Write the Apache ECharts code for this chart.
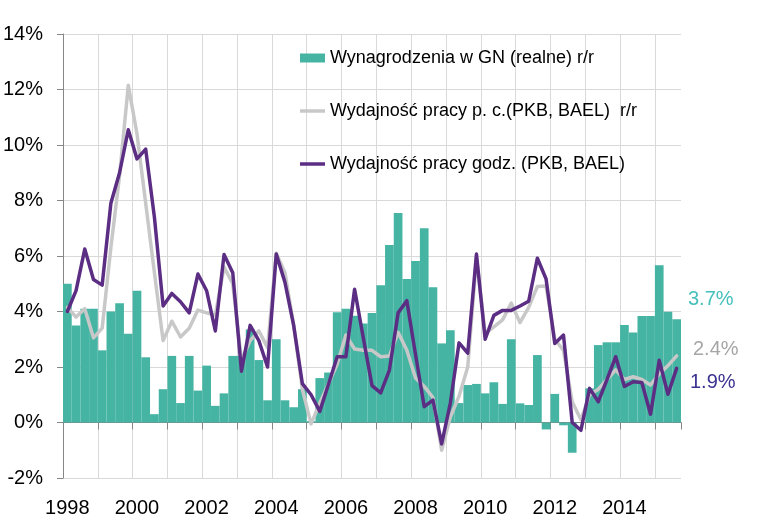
<!DOCTYPE html>
<html>
<head>
<meta charset="utf-8">
<script src="https://cdn.jsdelivr.net/npm/echarts@6/dist/echarts.min.js"></script>
<style>
html,body{margin:0;padding:0;background:#fff;}
#chart{width:770px;height:523px;}
</style>
</head>
<body>
<div id="chart"></div>
<script>
// Quarterly data, 1998 Q1 – 2015 Q3
const startYear = 1998;
const quarterCount = 71;

const seriesNames = [
  'Wynagrodzenia w GN (realne) r/r',
  'Wydajność pracy p. c.(PKB, BAEL)  r/r',
  'Wydajność pracy godz. (PKB, BAEL)'
];

// Real wages in national economy, y/y (%)
const wages = [
  5.0, 3.5, 4.1, 4.1,
  2.6, 4.0, 4.3, 3.2,
  4.75, 2.35, 0.3, 1.2,
  2.4, 0.7, 2.4, 1.15,
  2.05, 0.6, 1.05, 2.4,
  2.4, 3.35, 2.25, 0.8,
  3.0, 0.8, 0.55, 1.2,
  0.05, 1.6, 1.8, 3.97,
  4.1, 3.85, 3.57, 3.95,
  4.95, 6.4, 7.55, 5.17,
  5.82, 7.0, 4.87, 2.85,
  3.32, 0.7, 1.35, 1.39,
  1.05, 1.45, 0.67, 3.0,
  0.69, 0.63, 2.43, -0.25,
  1.03, -0.1, -1.09, 0.0,
  1.23, 2.79, 2.89, 2.89,
  3.51, 3.24, 3.84, 3.84,
  5.67, 3.99, 3.72
];

// Labour productivity per employed person, y/y (%)
const prodPerPerson = [
  4.15, 3.8, 4.1, 3.05,
  3.4, 6.3, 8.9, 12.15,
  10.4, 7.9, 5.4, 2.95,
  3.65, 3.08, 3.4, 4.05,
  3.95, 3.87, 5.6, 5.0,
  2.25, 2.95, 3.3, 2.7,
  6.1, 5.4, 3.5, 1.2,
  -0.05, 0.7, 1.4, 2.1,
  3.15, 2.65, 2.6, 2.6,
  2.37, 2.4, 3.25, 2.6,
  1.6, 1.3, 0.9, -1.0,
  0.2, 0.95, 2.0, 5.95,
  3.2, 3.45, 3.7, 4.3,
  3.6, 4.15, 4.9, 4.92,
  3.0, 2.6, 0.75, 0.1,
  1.0, 1.2, 1.55, 1.9,
  1.55, 1.65, 1.55, 1.35,
  1.75, 2.05, 2.4
];

// Labour productivity per hour, y/y (%)
const prodPerHour = [
  4.0, 4.75, 6.25, 5.15,
  4.95, 7.9, 9.0, 10.55,
  9.5, 9.85, 7.4, 4.2,
  4.65, 4.35, 3.95, 5.35,
  4.75, 3.3, 6.05, 5.4,
  1.85, 3.5, 2.95, 2.0,
  6.07, 5.05, 3.5, 1.4,
  1.0, 0.4, 1.38, 2.37,
  2.37, 4.8, 3.05, 1.33,
  1.07, 1.89, 3.95, 4.39,
  2.45, 0.57, 0.81, -0.77,
  0.7, 2.87, 2.5, 6.07,
  3.0, 3.86, 4.04, 4.04,
  4.2, 4.37, 5.92, 5.17,
  2.85, 3.15, 0.0, -0.28,
  1.23, 0.75, 1.55, 2.37,
  1.3, 1.47, 1.44, 0.3,
  2.24, 1.02, 1.95
];

// y-axis ticks
const yMin = -2, yMax = 14, yStep = 2;

// categories "1998 Q1" ...
const categories = [];
for (let i = 0; i < quarterCount; i++) {
  categories.push((startYear + Math.floor(i / 4)) + ' Q' + (i % 4 + 1));
}

const FONT = '"Liberation Sans", Arial, sans-serif';
const colBar = '#45b4a3';
const colGrey = '#c8c8c8';
const colPurple = '#5b2e84';
const axisGrey = '#868686';
const gridGrey = '#d9d9d9';
const lineIcon = 'path://M0,0L25,0L25,3.5L0,3.5Z';

// yearly vertical grid lines: one per year start, none at the right edge
const yearLineColors = [];
for (let i = 0; i < Math.ceil(quarterCount / 4); i++) yearLineColors.push(gridGrey);
yearLineColors.push('rgba(0,0,0,0)');

const last = quarterCount - 1;
const fmt = v => v.toFixed(1) + '%';

const chart = echarts.init(document.getElementById('chart'), null, {renderer: 'canvas'});
chart.setOption({
  animation: false,
  backgroundColor: '#fff',
  grid: {left: 63, right: 89, top: 34, bottom: 45, containLabel: false, outerBoundsMode: 'none'},
  legend: {
    orient: 'vertical',
    left: 300,
    top: 48,
    padding: 0,
    itemWidth: 25,
    itemHeight: 9,
    itemGap: 33,
    textStyle: {fontFamily: FONT, fontSize: 18, color: '#000', lineHeight: 20},
    data: [
      {name: seriesNames[0], icon: 'rect'},
      {name: seriesNames[1], icon: lineIcon},
      {name: seriesNames[2], icon: lineIcon}
    ]
  },
  xAxis: [
    {
      // labels (bottom) and yearly grid lines
      type: 'category',
      data: categories,
      boundaryGap: true,
      position: 'bottom',
      axisLine: {show: false, onZero: false},
      axisTick: {show: false},
      axisLabel: {
        interval: 7,
        margin: 20,
        fontFamily: FONT,
        fontSize: 20,
        color: '#000',
        formatter: v => v.slice(0, 4)
      },
      splitLine: {show: true, interval: 3, lineStyle: {color: yearLineColors, width: 1}}
    },
    {
      // axis line and ticks at zero
      type: 'category',
      data: categories,
      boundaryGap: true,
      position: 'bottom',
      axisLine: {show: true, onZero: true, lineStyle: {color: axisGrey, width: 1}},
      axisTick: {show: true, interval: 3, length: 7, lineStyle: {color: axisGrey, width: 1}},
      axisLabel: {show: false},
      splitLine: {show: false}
    }
  ],
  yAxis: {
    type: 'value',
    min: yMin,
    max: yMax,
    interval: yStep,
    axisLine: {show: true, lineStyle: {color: axisGrey, width: 1}},
    axisTick: {show: true, length: 6, lineStyle: {color: axisGrey}},
    axisLabel: {fontFamily: FONT, fontSize: 20, color: '#000', margin: 20, formatter: '{value}%'},
    splitLine: {show: true, lineStyle: {color: gridGrey, width: 1}}
  },
  series: [
    {
      name: seriesNames[0],
      type: 'bar',
      data: wages,
      barCategoryGap: '0%',
      barGap: '0%',
      itemStyle: {color: colBar},
      z: 2
    },
    {
      name: seriesNames[1],
      type: 'line',
      data: prodPerPerson,
      symbol: 'none',
      lineStyle: {color: colGrey, width: 3.5, cap: 'round', join: 'round'},
      itemStyle: {color: colGrey},
      z: 3
    },
    {
      name: seriesNames[2],
      type: 'line',
      data: prodPerHour,
      symbol: 'none',
      lineStyle: {color: colPurple, width: 3.5, cap: 'round', join: 'round'},
      itemStyle: {color: colPurple},
      z: 4
    }
  ],
  graphic: [
    {type: 'text', left: 688, top: 289, style: {text: fmt(wages[last]), fill: '#45c0bb', font: '20px ' + FONT}},
    {type: 'text', left: 693, top: 339, style: {text: fmt(prodPerPerson[last]), fill: '#a6a6a6', font: '20px ' + FONT}},
    {type: 'text', left: 690, top: 372, style: {text: fmt(prodPerHour[last]), fill: '#3b3391', font: '20px ' + FONT}}
  ]
});
</script>
</body>
</html>
